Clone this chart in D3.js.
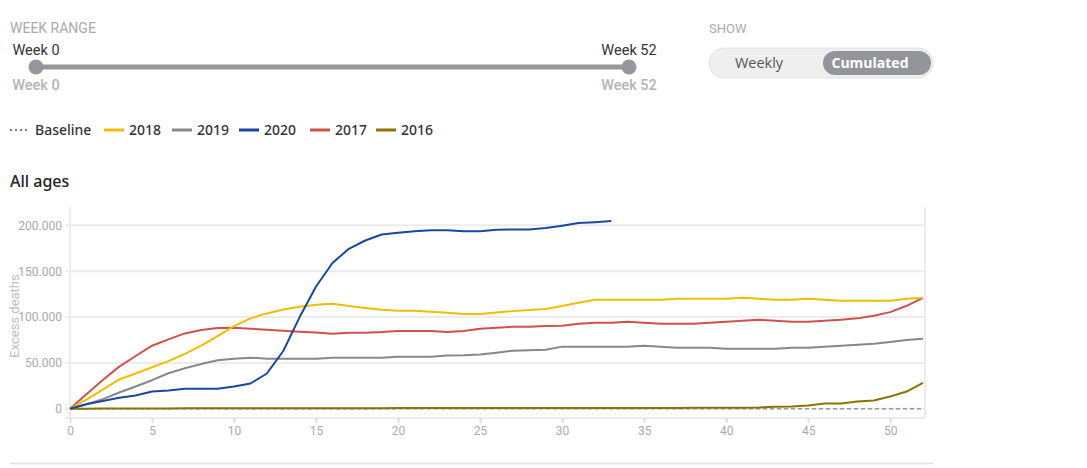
<!DOCTYPE html>
<html>
<head>
<meta charset="utf-8">
<script src="https://cdn.jsdelivr.net/npm/d3@7"></script>
<style>
  body { margin: 0; background: #fff; }
  svg text { font-family: Roboto, "Noto Sans", sans-serif; }
</style>
</head>
<body>
<div id="chart"></div>
<script>
// Chart values
var weeks = d3.range(0, 53);
var xTicks = [0, 5, 10, 15, 20, 25, 30, 35, 40, 45, 50];
var yTicks = [0, 50000, 100000, 150000, 200000];

var baselineWeeks = [0, 52];
var baselineValues = [0, 0];

var values2018 = [0, 10000, 21000, 32000, 38500, 45300, 52000, 59800, 68800, 79300, 90200,
  98600, 104000, 108300, 111200, 113400, 114500, 112000, 110000, 108000, 106900, 106900,
  105800, 104700, 103300, 103300, 105000, 106500, 107600, 108700, 112000, 115600, 118800,
  118800, 118800, 118800, 118800, 119900, 119900, 119900, 119900, 121000, 119900, 118800,
  118800, 119900, 118800, 117800, 117800, 117800, 117800, 119900, 121000];

var values2019 = [0, 5000, 10500, 17800, 24300, 31200, 38800, 44200, 48900, 52900, 54700,
  55800, 54700, 54700, 54700, 54700, 55800, 55800, 55800, 55800, 56900, 56900, 56900,
  58000, 58300, 59100, 61200, 63400, 63800, 64500, 67800, 67800, 67800, 67800, 67800,
  68800, 67800, 66700, 66700, 66700, 65600, 65600, 65600, 65600, 66700, 66700, 67800,
  68800, 69900, 71000, 72800, 75000, 76400];

var values2020 = [0, 5000, 8500, 12000, 14500, 18900, 20000, 22000, 22000, 22000, 24300,
  27600, 38500, 63000, 100000, 133300, 159000, 174400, 183500, 190000, 192000, 193500,
  194600, 194600, 193500, 193500, 195300, 195500, 195600, 197100, 199600, 202500, 203500,
  204700];

var values2017 = [0, 16000, 31500, 46000, 57600, 68800, 75700, 82200, 85900, 88000, 88400,
  87300, 86200, 85100, 84100, 83300, 81900, 83000, 83000, 83700, 84800, 84800, 84800,
  83700, 84800, 87300, 88400, 89500, 89500, 90200, 90600, 92800, 93800, 93800, 94900,
  93800, 92800, 92800, 92800, 93800, 94900, 96000, 97100, 96000, 94900, 94900, 96000,
  97100, 98600, 101400, 105400, 112300, 121000];

var values2016 = [0, 200, 300, 300, 400, 400, 400, 500, 500, 500, 500, 600, 600, 600, 600,
  700, 700, 700, 700, 700, 800, 800, 800, 800, 800, 800, 900, 900, 900, 900, 900, 900,
  1000, 1000, 1000, 1000, 1000, 1000, 1100, 1100, 1200, 1300, 1500, 2200, 2500, 3600,
  5800, 5800, 8000, 9100, 13400, 18800, 28300];

var seriesNames = ["2018", "2019", "2020", "2017", "2016"];
var seriesValues = [values2018, values2019, values2020, values2017, values2016];
var seriesColors = ["#f0be00", "#888888", "#1b47a1", "#d0514b", "#8a7400"];

// SVG area
var svgWidth = 1087;
var svgHeight = 468;

var svg = d3.select("#chart")
  .append("svg")
  .attr("width", svgWidth)
  .attr("height", svgHeight);

// ---- Week range slider ----
svg.append("text")
  .attr("x", 10).attr("y", 33)
  .attr("fill", "#aaa").attr("font-size", "14px")
  .text("WEEK RANGE");

var sliderScale = d3.scaleLinear().domain([0, 52]).range([36, 629]);

svg.append("line")
  .attr("x1", sliderScale(0)).attr("x2", sliderScale(52))
  .attr("y1", 67).attr("y2", 67)
  .attr("stroke", "#96979c").attr("stroke-width", 5);

[0, 52].forEach(function(w) {
  svg.append("circle")
    .attr("cx", sliderScale(w)).attr("cy", 67).attr("r", 7.5)
    .attr("fill", "#96979c");
  svg.append("text")
    .attr("x", sliderScale(w)).attr("y", 55)
    .attr("text-anchor", "middle")
    .attr("fill", "#333").attr("font-size", "14.5px")
    .text("Week " + w);
  svg.append("text")
    .attr("x", sliderScale(w)).attr("y", 90)
    .attr("text-anchor", "middle")
    .attr("fill", "#b4b4b4").attr("font-size", "14.5px").attr("font-weight", 500)
    .text("Week " + w);
});

// ---- Show toggle ----
svg.append("text")
  .attr("x", 709).attr("y", 33)
  .attr("fill", "#aaa").attr("font-size", "13px")
  .text("SHOW");

svg.append("rect")
  .attr("x", 709).attr("y", 48).attr("width", 224).attr("height", 30)
  .attr("rx", 15)
  .attr("fill", "#efefef").attr("stroke", "#e2e2e2");

svg.append("rect")
  .attr("x", 823).attr("y", 51).attr("width", 108).attr("height", 24)
  .attr("rx", 12)
  .attr("fill", "#94959b");

svg.append("text")
  .attr("x", 759).attr("y", 68)
  .attr("text-anchor", "middle")
  .attr("fill", "#555").attr("font-size", "14.5px")
  .style("font-family", "'Open Sans', sans-serif")
  .text("Weekly");

svg.append("text")
  .attr("x", 870).attr("y", 68)
  .attr("text-anchor", "middle")
  .attr("fill", "#fff").attr("font-size", "14px").attr("font-weight", 700)
  .style("font-family", "'Open Sans', sans-serif")
  .text("Cumulated");

// ---- Legend ----
var legend = svg.append("g").attr("transform", "translate(10, 130)");

legend.append("line")
  .attr("x1", 0).attr("x2", 20).attr("y1", 0).attr("y2", 0)
  .attr("stroke", "#555").attr("stroke-width", 1.5)
  .attr("stroke-dasharray", "2,3");
legend.append("text")
  .attr("x", 25).attr("y", 5)
  .attr("fill", "#333").attr("font-size", "14px").attr("font-weight", 500)
  .style("font-family", "'Noto Sans', sans-serif")
  .text("Baseline");

var legendX = [94, 162, 229, 300, 366];
seriesNames.forEach(function(name, i) {
  legend.append("line")
    .attr("x1", legendX[i]).attr("x2", legendX[i] + 20)
    .attr("y1", 0).attr("y2", 0)
    .attr("stroke", seriesColors[i]).attr("stroke-width", 3);
  legend.append("text")
    .attr("x", legendX[i] + 25).attr("y", 5)
    .attr("fill", "#333").attr("font-size", "14px").attr("font-weight", 500)
    .style("font-family", "'Noto Sans', sans-serif")
    .text(name);
});

// ---- Title ----
svg.append("text")
  .attr("x", 10).attr("y", 187)
  .attr("fill", "#222").attr("font-size", "16px").attr("font-weight", 500)
  .style("font-family", "'Noto Sans', sans-serif")
  .text("All ages");

// ---- Chart area ----
var plotLeft = 70, plotRight = 923, plotTop = 207, plotBottom = 418;

var xLinearScale = d3.scaleLinear()
  .domain([0, 52])
  .range([plotLeft, plotRight]);

var yLinearScale = d3.scaleLinear()
  .domain([-10000, 220000])
  .range([plotBottom, plotTop]);

var locale = d3.formatLocale({ decimal: ",", thousands: ".", grouping: [3], currency: ["", ""] });
var yFormat = locale.format(",d");

// Horizontal gridlines
svg.append("g")
  .selectAll("line")
  .data(yTicks)
  .enter()
  .append("line")
  .attr("x1", plotLeft - 5).attr("x2", plotRight + 2)
  .attr("y1", d => yLinearScale(d)).attr("y2", d => yLinearScale(d))
  .attr("stroke", "#ececec").attr("stroke-width", 2);

// Frame lines
svg.append("line")
  .attr("x1", plotLeft).attr("x2", plotLeft)
  .attr("y1", plotTop).attr("y2", plotBottom)
  .attr("stroke", "#ececec").attr("stroke-width", 2);
svg.append("line")
  .attr("x1", plotRight + 2).attr("x2", plotRight + 2)
  .attr("y1", plotTop).attr("y2", plotBottom)
  .attr("stroke", "#ececec").attr("stroke-width", 2);

// Axes
var leftAxis = d3.axisLeft(yLinearScale)
  .tickValues(yTicks)
  .tickFormat(yFormat)
  .tickSize(0)
  .tickPadding(8);

var yAxisG = svg.append("g")
  .attr("transform", `translate(${plotLeft}, 0)`)
  .call(leftAxis);
yAxisG.select(".domain").remove();
yAxisG.selectAll("text").attr("fill", "#a8a8a8").attr("font-size", "12px")
  .style("font-family", "Roboto, sans-serif");

var bottomAxis = d3.axisBottom(xLinearScale)
  .tickValues(xTicks)
  .tickSize(5)
  .tickPadding(3);

var xAxisG = svg.append("g")
  .attr("transform", `translate(0, ${plotBottom})`)
  .call(bottomAxis);
xAxisG.select(".domain")
  .attr("d", `M${plotLeft - 5},0H${plotRight + 3}`)
  .attr("stroke", "#ececec").attr("stroke-width", 2);
xAxisG.selectAll(".tick line").attr("stroke", "#dedede").attr("stroke-width", 2);
xAxisG.selectAll("text").attr("fill", "#aaa").attr("font-size", "12px")
  .style("font-family", "Roboto, sans-serif");

// Y axis label
svg.append("text")
  .attr("transform", "rotate(-90)")
  .attr("x", -316)
  .attr("y", 19)
  .attr("text-anchor", "middle")
  .attr("fill", "#bdbdbd").attr("font-size", "13px")
  .text("Excess deaths");

// Baseline
var baseLine = d3.line()
  .x((d, i) => xLinearScale(baselineWeeks[i]))
  .y(d => yLinearScale(d));

svg.append("path")
  .datum(baselineValues)
  .attr("d", baseLine)
  .attr("fill", "none")
  .attr("stroke", "#999")
  .attr("stroke-width", 1.5)
  .attr("stroke-dasharray", "4,3");

// Series lines
var seriesLine = d3.line()
  .x((d, i) => xLinearScale(weeks[i]))
  .y(d => yLinearScale(d));

var drawOrder = [4, 1, 3, 0, 2];
drawOrder.forEach(function(i) {
  svg.append("path")
    .datum(seriesValues[i])
    .attr("d", seriesLine)
    .attr("fill", "none")
    .attr("stroke", seriesColors[i])
    .attr("stroke-width", 2)
    .attr("stroke-linejoin", "round");
});

// Bottom separator
svg.append("line")
  .attr("x1", 10).attr("x2", 933)
  .attr("y1", 463.5).attr("y2", 463.5)
  .attr("stroke", "#e0e0e0").attr("stroke-width", 1.5);
</script>
</body>
</html>
